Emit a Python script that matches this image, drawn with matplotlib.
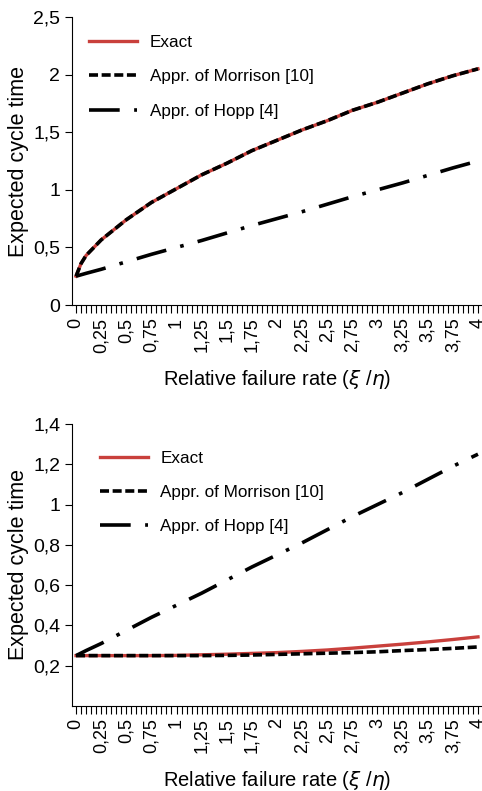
import numpy as np
import matplotlib
matplotlib.use("Agg")
from matplotlib import pyplot as plt
from matplotlib.ticker import MultipleLocator, FuncFormatter

plt.rcParams['font.family'] = ['Liberation Sans', 'DejaVu Sans']

# relative failure rate xi/eta
x = [0, 0.05, 0.1, 0.25, 0.5, 0.75, 1, 1.25, 1.5, 1.75, 2, 2.25, 2.5, 2.75, 3, 3.25, 3.5, 3.75, 4]

# top panel
exact_top = [0.25, 0.36, 0.43, 0.565, 0.74, 0.89, 1.01, 1.13, 1.23, 1.34, 1.43, 1.52, 1.60, 1.69, 1.76, 1.84, 1.92, 1.99, 2.05]
morrison_top = [0.25, 0.36, 0.43, 0.565, 0.74, 0.89, 1.01, 1.13, 1.23, 1.34, 1.43, 1.52, 1.60, 1.69, 1.76, 1.84, 1.92, 1.99, 2.05]
hopp_top = [0.25, 0.2625, 0.275, 0.31, 0.375, 0.44, 0.5, 0.56, 0.625, 0.69, 0.75, 0.81, 0.875, 0.94, 1.0, 1.06, 1.125, 1.19, 1.25]

# bottom panel
exact_bot = [0.25, 0.25, 0.25, 0.25, 0.25, 0.25, 0.251, 0.254, 0.257, 0.261, 0.265, 0.271, 0.278, 0.287, 0.297, 0.307, 0.318, 0.33, 0.343]
morrison_bot = [0.25, 0.25, 0.25, 0.25, 0.25, 0.25, 0.25, 0.25, 0.251, 0.253, 0.256, 0.259, 0.262, 0.265, 0.269, 0.275, 0.28, 0.286, 0.293]
hopp_bot = [0.25, 0.2625, 0.275, 0.31, 0.375, 0.44, 0.5, 0.56, 0.625, 0.69, 0.75, 0.81, 0.875, 0.94, 1.0, 1.06, 1.125, 1.19, 1.25]

red = '#c9403c'


def comma(v, pos):
    s = ('%.2f' % v).rstrip('0').rstrip('.')
    return s.replace('.', ',')


def panel(ax, ex, mo, ho, ylim, yticks, leg_anchor):
    ax.plot(x, ex, color=red, lw=2.4, label='Exact')
    ax.plot(x, mo, color='black', lw=2.6, linestyle=(0, (2.5, 1.0)), label='Appr. of Morrison [10]')
    ax.plot(x, ho, color='black', lw=2.6, linestyle=(0, (8.5, 4, 1, 4)), label='Appr. of Hopp [4]')
    ax.set_xlim(-0.04, 4.04)
    ax.set_ylim(*ylim)
    ax.set_yticks(yticks)
    ax.yaxis.set_major_formatter(FuncFormatter(comma))
    ax.xaxis.set_major_locator(MultipleLocator(0.25))
    ax.xaxis.set_minor_locator(MultipleLocator(0.05))
    ax.xaxis.set_major_formatter(FuncFormatter(comma))
    ax.tick_params(axis='x', which='both', direction='out', length=6, width=0.8, labelrotation=90, labelsize=13, pad=3)
    ax.tick_params(axis='y', direction='out', length=5, width=0.8, labelsize=14)
    ax.spines['top'].set_visible(False)
    ax.spines['right'].set_visible(False)
    ax.set_ylabel('Expected cycle time', fontsize=15.5, labelpad=3)
    ax.set_xlabel(r'Relative failure rate ($\xi$ /$\eta$)', fontsize=14.5, labelpad=11)
    ax.legend(loc='upper left', bbox_to_anchor=leg_anchor, frameon=False, fontsize=12.3,
              handlelength=2.8, labelspacing=1.12, handletextpad=0.75)


fig = plt.figure(figsize=(4.82, 7.91), dpi=100)
ax1 = fig.add_axes([0.1494, 0.6144, 0.8506, 0.3641])
ax2 = fig.add_axes([0.1494, 0.1075, 0.8506, 0.3565])

panel(ax1, exact_top, morrison_top, hopp_top, (0, 2.5), [0, 0.5, 1, 1.5, 2, 2.5], (0.005, 0.99))
panel(ax2, exact_bot, morrison_bot, hopp_bot, (0, 1.4), [0.2, 0.4, 0.6, 0.8, 1, 1.2, 1.4], (0.03, 0.96))

fig.savefig('out.png', dpi=100)
